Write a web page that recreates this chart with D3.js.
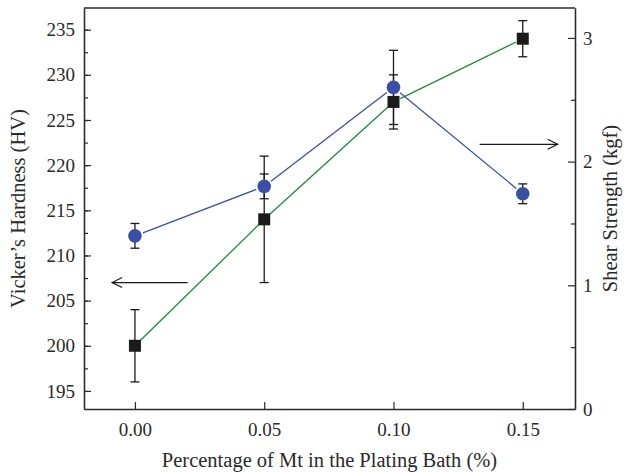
<!DOCTYPE html>
<html>
<head>
<meta charset="utf-8">
<script src="https://cdn.jsdelivr.net/npm/d3@7"></script>
<style>
  body { margin: 0; background: #fff; }
  text { font-family: "Liberation Serif", "DejaVu Serif", serif; fill: #2a2a2a; }
</style>
</head>
<body>
<div id="chart"></div>
<script>
// Data
const mtPercent = [0.00, 0.05, 0.10, 0.15];
const hardness = [200, 214, 227, 234];
const hardnessErr = [4, 7, 3, 2];
const shear = [1.40, 1.80, 2.60, 1.74];
const shearErr = [0.10, 0.10, 0.30, 0.08];

const xTicks = [0.00, 0.05, 0.10, 0.15];
const leftTicks = [195, 200, 205, 210, 215, 220, 225, 230, 235];
const rightTicks = [0, 1, 2, 3];

const width = 625;
const height = 472;
const marginTop = 8;
const marginRight = 50;
const marginBottom = 63;
const marginLeft = 84;

const x = d3.scaleLinear()
  .domain([-0.0197, 0.1702])
  .range([marginLeft, width - marginRight]);

const yL = d3.scaleLinear()
  .domain([193.0, 237.4])
  .range([height - marginBottom, marginTop]);

const yR = d3.scaleLinear()
  .domain([0, 3.242])
  .range([height - marginBottom, marginTop]);

const svg = d3.select("#chart").append("svg")
  .attr("width", width)
  .attr("height", height)
  .attr("viewBox", [0, 0, width, height]);

const axisColor = "#2a2a2a";

// frame top line
svg.append("line")
  .attr("x1", marginLeft).attr("x2", width - marginRight)
  .attr("y1", marginTop).attr("y2", marginTop)
  .attr("stroke", axisColor).attr("stroke-width", 1.3);

function styleAxis(g) {
  g.select(".domain").attr("stroke", axisColor).attr("stroke-width", 1.3);
  g.selectAll(".tick line").attr("stroke", axisColor).attr("stroke-width", 1.2);
  g.selectAll(".tick text").style("font-size", "19px");
}

// bottom axis, inward ticks
svg.append("g")
  .attr("transform", `translate(0,${height - marginBottom})`)
  .call(d3.axisBottom(x).tickValues(xTicks).tickFormat(d3.format(".2f"))
    .tickSizeInner(-7).tickSizeOuter(0).tickPadding(14))
  .call(styleAxis);

// left axis: minor ticks then major
svg.append("g")
  .attr("transform", `translate(${marginLeft},0)`)
  .call(d3.axisLeft(yL).tickValues(d3.range(195, 237.5, 2.5)).tickFormat("")
    .tickSizeInner(-4).tickSizeOuter(0))
  .call(styleAxis);
svg.append("g")
  .attr("transform", `translate(${marginLeft},0)`)
  .call(d3.axisLeft(yL).tickValues(leftTicks)
    .tickSizeInner(-7).tickSizeOuter(0))
  .call(styleAxis)
  .call(g => g.selectAll(".tick text").attr("x", -9));

// right axis
svg.append("g")
  .attr("transform", `translate(${width - marginRight},0)`)
  .call(d3.axisRight(yR).tickValues(d3.range(0.5, 3.2, 1)).tickFormat("")
    .tickSizeInner(-4).tickSizeOuter(0))
  .call(styleAxis);
svg.append("g")
  .attr("transform", `translate(${width - marginRight},0)`)
  .call(d3.axisRight(yR).tickValues(rightTicks).tickFormat(d3.format("d"))
    .tickSizeInner(-7).tickSizeOuter(0))
  .call(styleAxis)
  .call(g => g.selectAll(".tick text").attr("x", 8));

// axis titles
svg.append("text")
  .attr("x", (marginLeft + width - marginRight) / 2)
  .attr("y", 467)
  .attr("text-anchor", "middle")
  .style("font-size", "20.5px")
  .text("Percentage of Mt in the Plating Bath (%)");

svg.append("text")
  .attr("transform", `translate(25,${(marginTop + height - marginBottom) / 2}) rotate(-90)`)
  .attr("text-anchor", "middle")
  .style("font-size", "20.5px")
  .text("Vicker’s Hardness (HV)");

svg.append("text")
  .attr("transform", `translate(617,${(marginTop + height - marginBottom) / 2}) rotate(-90)`)
  .attr("text-anchor", "middle")
  .style("font-size", "20.5px")
  .text("Shear Strength (kgf)");

// connecting lines, shortened so they stop near the markers
function gapLines(pts, color, gap) {
  const segs = d3.pairs(pts).map(([a, b]) => {
    const dx = b[0] - a[0], dy = b[1] - a[1];
    const len = Math.hypot(dx, dy);
    const ux = dx / len, uy = dy / len;
    return [a[0] + ux * gap, a[1] + uy * gap, b[0] - ux * gap, b[1] - uy * gap];
  });
  svg.append("g")
    .selectAll("line")
    .data(segs)
    .join("line")
    .attr("x1", d => d[0]).attr("y1", d => d[1])
    .attr("x2", d => d[2]).attr("y2", d => d[3])
    .attr("stroke", color)
    .attr("stroke-width", 1.3);
}

const hardPts = mtPercent.map((m, i) => [x(m), yL(hardness[i])]);
const shearPts = mtPercent.map((m, i) => [x(m), yR(shear[i])]);

gapLines(hardPts, "#1f8a3a", 7.5);
gapLines(shearPts, "#3a50a6", 8.5);

// error bars
function errorBars(vals, errs, scale) {
  const g = svg.append("g").attr("stroke", "#1a1a1a").attr("stroke-width", 1.3);
  mtPercent.forEach((m, i) => {
    const cx = x(m);
    const top = scale(vals[i] + errs[i]);
    const bot = scale(vals[i] - errs[i]);
    g.append("line").attr("x1", cx).attr("x2", cx).attr("y1", top).attr("y2", bot);
    g.append("line").attr("x1", cx - 4.5).attr("x2", cx + 4.5).attr("y1", top).attr("y2", top);
    g.append("line").attr("x1", cx - 4.5).attr("x2", cx + 4.5).attr("y1", bot).attr("y2", bot);
  });
}
errorBars(hardness, hardnessErr, yL);
errorBars(shear, shearErr, yR);

// markers
svg.append("g")
  .selectAll("rect")
  .data(hardPts)
  .join("rect")
  .attr("x", d => d[0] - 6)
  .attr("y", d => d[1] - 6)
  .attr("width", 12)
  .attr("height", 12)
  .attr("fill", "#1b1b1b");

svg.append("g")
  .selectAll("circle")
  .data(shearPts)
  .join("circle")
  .attr("cx", d => d[0])
  .attr("cy", d => d[1])
  .attr("r", 6.8)
  .attr("fill", "#3a50a6");

// arrows pointing to the respective axes
svg.append("defs").append("marker")
  .attr("id", "head")
  .attr("viewBox", "0 0 12 12")
  .attr("refX", 11).attr("refY", 6)
  .attr("markerWidth", 12).attr("markerHeight", 12)
  .attr("markerUnits", "userSpaceOnUse")
  .attr("orient", "auto")
  .append("path")
  .attr("d", "M1,1 L11,6 L1,11")
  .attr("fill", "none")
  .attr("stroke", "#1a1a1a")
  .attr("stroke-width", 1.2);

svg.append("line")
  .attr("x1", x(0.0204)).attr("x2", x(-0.0088))
  .attr("y1", yL(207)).attr("y2", yL(207))
  .attr("stroke", "#1a1a1a").attr("stroke-width", 1.2)
  .attr("marker-end", "url(#head)");

svg.append("line")
  .attr("x1", x(0.1333)).attr("x2", x(0.1635))
  .attr("y1", yR(2.14)).attr("y2", yR(2.14))
  .attr("stroke", "#1a1a1a").attr("stroke-width", 1.2)
  .attr("marker-end", "url(#head)");
</script>
</body>
</html>
